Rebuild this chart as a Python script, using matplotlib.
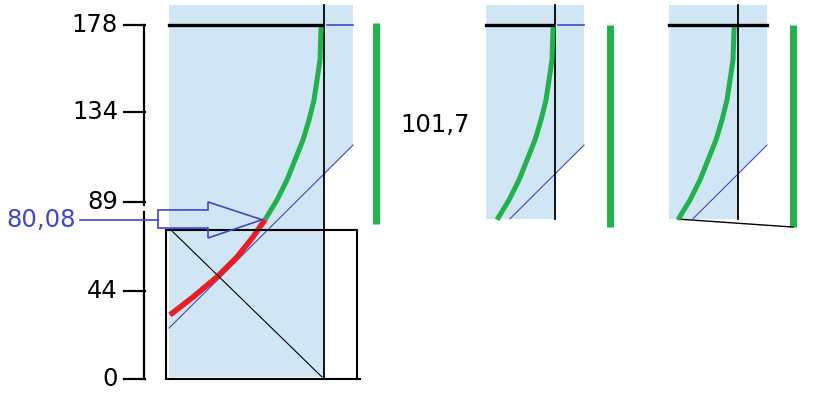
import numpy as np
import matplotlib
matplotlib.use('Agg')
import matplotlib.pyplot as plt
from matplotlib.patches import Polygon, Rectangle

# valores do eixo
ticks = [0, 44, 89, 134, 178]
tick_labels = ['0', '44', '89', '134', '178']
valor_marcado = 80.08
rotulo_marcado = '80,08'
rotulo_lateral = '101,7'
valor_lateral = 127.7

# curva (parte vermelha e parte verde)
red_x = [170, 193, 217, 237, 253, 265]
red_y = [32.2, 41.2, 51.3, 61.3, 71.4, 80.08]
green_x = [265, 277, 287, 295, 303, 309, 314, 317, 320, 321, 321.5]
green_y = [80.08, 90.0, 100.1, 110.1, 120.2, 130.2, 140.3, 150.3, 160.4, 175.5, 178]

# reta azul fina
blue_x = [169, 353]
blue_y = [25.6, 117.6]

azul_claro = '#D0E6F4'
verde = '#22B14C'
vermelho = '#ED1C24'
azul = '#3F48CC'

fig = plt.figure(figsize=(8.22, 3.98), dpi=100)
ax = fig.add_axes([0, 0, 1, 1])
ax.set_xlim(0, 822)
ax.set_ylim(-9.55, 190.55)
ax.axis('off')

inclinacao = (blue_y[1] - blue_y[0]) / (blue_x[1] - blue_x[0])


def reta(x, dx):
    # valor da reta azul deslocada em x
    return blue_y[0] + (x - dx - blue_x[0]) * inclinacao


# paineis: (esquerda, direita, vertical, base, deslocamento, inicio da reta, deslocamento da curva)
paineis = [(169, 353, 324, 1.0, 0, 169, 0),
           (486, 584, 555, 80.4, 231, 510, 232),
           (669, 767, 738, 80.4, 414, 693, 413)]
topo = 188.0

for i, (esq, dir_, xv, base, dx, x0, dg) in enumerate(paineis):
    yv = reta(xv, dx)
    yd = reta(dir_, dx)
    pts = [(esq, topo), (dir_, topo), (dir_, yd), (xv, yv), (xv, base), (esq, base)]
    ax.add_patch(Polygon(pts, closed=True, facecolor=azul_claro, edgecolor='none', zorder=1))
    # reta azul
    ax.plot([x0, dir_], [reta(x0, dx), yd], color=azul, lw=0.8, zorder=3)
    # vertical preta
    ax.plot([xv, xv], [topo, base], color='black', lw=1.3, zorder=4)
    # curva verde
    ax.plot(np.array(green_x) + dg, green_y, color=verde, lw=3.6, solid_capstyle='butt', zorder=5)
    # linha grossa em 178
    if i == 2:
        ax.plot([esq, dir_], [178, 178], color='black', lw=2.4, zorder=6)
    else:
        ax.plot([esq, xv - 2], [178, 178], color='black', lw=2.4, zorder=6)
        ax.plot([xv + 3, dir_], [178, 178], color=azul, lw=1.2, zorder=6)

# curva vermelha
ax.plot(red_x, red_y, color=vermelho, lw=4.0, solid_capstyle='butt', zorder=5)

# barras verdes
ax.plot([376, 376], [179, 77.9], color=verde, lw=5, solid_capstyle='butt')
ax.plot([610, 610], [178, 76.4], color=verde, lw=5, solid_capstyle='butt')
ax.plot([793, 793], [178, 76.4], color=verde, lw=5, solid_capstyle='butt')

# linha fina preta no terceiro painel
ax.plot([678, 793], [80.4, 76.4], color='black', lw=1.0)

# retangulo preto e diagonal
ax.add_patch(Rectangle((166, 0), 191, 74.9, fill=False, edgecolor='black', lw=1.5, zorder=7))
ax.plot([357, 360], [0, 0], color='black', lw=1.5, zorder=7)
ax.plot([170, 322], [75.4, 1.0], color='black', lw=0.8, zorder=7)

# eixo vertical (com pequena falha logo abaixo do 89)
ax.plot([144, 144], [ticks[0], 84.0], color='black', lw=1.6)
ax.plot([144, 144], [87.5, ticks[-1]], color='black', lw=1.6)
for t, lab in zip(ticks, tick_labels):
    ax.plot([124, 145], [t, t], color='black', lw=1.6)
    ax.text(118, t, lab, ha='right', va='center', fontsize=17.5, color='black')

# seta azul
seta = [(158, 85.0), (208, 85.0), (208, 89.0), (262, valor_marcado), (208, 70.9), (208, 75.9), (158, 75.9)]
ax.add_patch(Polygon(seta, closed=True, fill=False, edgecolor=azul, lw=1.2, zorder=8))
ax.plot([80, 158], [valor_marcado, valor_marcado], color=azul, lw=1.2)
ax.text(76, valor_marcado, rotulo_marcado, ha='right', va='center', fontsize=17.5, color=azul)

ax.text(400, valor_lateral, rotulo_lateral, ha='left', va='center', fontsize=17.5, color='black')

fig.savefig('out.png', dpi=100)
